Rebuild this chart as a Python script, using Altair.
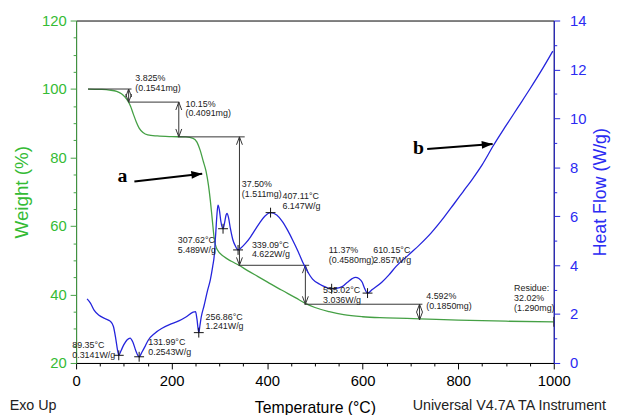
import altair as alt
import pandas as pd

# ---------------- data ----------------
# Weight (TGA) curve
w_temp = [25, 50, 70, 85, 95, 102, 108, 114, 120, 126, 132, 140, 150, 170, 200, 230, 245, 253,
          260, 266, 272, 277, 281, 285, 289, 295, 310, 325, 340, 360, 380, 400, 430, 460, 480,
          500, 530, 560, 600, 650, 720, 800, 900, 1000]
w_pct = [100.0, 99.9, 99.7, 99.3, 98.6, 97.7, 96.6, 95.0, 92.6, 90.4, 88.6, 87.3, 86.6, 86.3,
         86.1, 86.0, 85.6, 84.5, 82.0, 79.0, 76.0, 72.0, 67.5, 62.0, 56.5, 53.2, 51.0, 49.7,
         48.6, 46.9, 45.3, 43.7, 41.3, 39.0, 37.4, 36.2, 35.0, 34.1, 33.5, 33.2, 32.9, 32.5,
         32.2, 32.0]

# Heat flow (DSC) curve
h_temp = [23, 30, 38, 48, 60, 72, 78, 83, 87, 89.35, 94, 100, 107, 113, 119, 125, 131.99, 138,
          145, 151, 165, 180, 199, 215, 230, 245, 250, 253, 256.86, 259, 262, 268, 275, 281,
          286, 289, 292, 295, 297, 300, 303, 307.62, 311, 314, 316, 319, 323, 328, 333, 339.09,
          345, 355, 365, 375, 385, 395, 407.11, 420, 432, 443, 453, 465, 475, 485, 495, 510,
          523, 535.02, 545, 557, 568, 578, 585, 592, 599, 604, 610.15, 620, 640, 655, 670, 695,
          720, 743, 770, 791, 810, 829, 850, 874, 900, 925, 950, 974, 998]
h_val = [2.62, 2.45, 2.15, 1.95, 1.82, 1.7, 1.5, 1.0, 0.5, 0.3141, 0.5, 0.75, 0.95, 1.02, 0.85,
         0.5, 0.2543, 0.45, 0.7, 0.93, 1.22, 1.42, 1.6, 1.72, 1.88, 2.08, 2.1, 1.8, 1.241, 1.5,
         1.88, 2.35, 2.95, 3.4, 3.95, 4.35, 5.2, 6.1, 6.45, 6.25, 5.8, 5.489, 5.75, 6.05, 6.12,
         5.95, 5.5, 5.05, 4.8, 4.622, 4.7, 4.9, 5.15, 5.45, 5.75, 6.0, 6.147, 6.05, 5.78, 5.42,
         5.04, 4.55, 4.1, 3.72, 3.43, 3.22, 3.1, 3.036, 3.05, 3.12, 3.3, 3.45, 3.5, 3.45, 3.3,
         3.05, 2.857, 3.0, 3.3, 3.6, 3.95, 4.4, 4.85, 5.31, 5.95, 6.5, 7.0, 7.5, 8.1, 8.9, 9.7,
         10.45, 11.2, 11.95, 12.75]

# Peak annotations (heat flow)
peak_temp = [89.35, 131.99, 256.86, 307.62, 339.09, 407.11, 535.02, 610.15]
peak_hf = [0.3141, 0.2543, 1.241, 5.489, 4.622, 6.147, 3.036, 2.857]
peak_text = ["89.35°C\n0.3141W/g", "131.99°C\n0.2543W/g", "256.86°C\n1.241W/g",
             "307.62°C\n5.489W/g", "339.09°C\n4.622W/g", "407.11°C\n6.147W/g",
             "535.02°C\n3.036W/g", "610.15°C\n2.857W/g"]
peak_lab_t = [-8, 151, 271, 213, 368, 432, 517, 622]
peak_lab_h = [0.89, 1.01, 2.06, 5.2, 5.0, 6.98, 3.15, 4.76]

# Weight-loss steps
step_t = [110, 215, 342, 480, 719]
step_top = [100.0, 96.18, 86.03, 48.53, 37.16]
step_bot = [96.18, 86.03, 48.53, 37.16, 32.56]
step_from = [25, 110, 213, 340, 478]
step_to = [116, 216, 353, 488, 725]
step_text = ["3.825%\n(0.1541mg)", "10.15%\n(0.4091mg)", "37.50%\n(1.511mg)",
             "11.37%\n(0.4580mg)", "4.592%\n(0.1850mg)"]
step_lab_t = [124, 229, 347, 529, 733]
step_lab_w = [104.4, 96.9, 73.3, 54.0, 40.75]

residue_t = [1000]
residue_w = [32.02]
residue_text = ["Residue:\n32.02%\n(1.290mg)"]
residue_lab_t = [917]
residue_lab_w = [43.05]

# Letter call-outs a / b
ab_text = ["a", "b"]
ab_t = [97, 717]
ab_h = [7.38, 8.55]
arrow_t1 = [122, 735]
arrow_h1 = [7.42, 8.75]
arrow_t2 = [264, 872]
arrow_h2 = [7.74, 8.95]
arrow_ang = [353.4, 355.7]

foot_text = ["Exo Up", "Universal V4.7A TA Instrument"]
foot_t = [-90, 907]
foot_h = [-1.78, -1.78]

# ---------------- styling ----------------
FONT = "Liberation Sans"
GREEN_TXT = "#35bb35"
GREEN_LINE = "#45a045"
BLUE_TXT = "#2b2bf2"
BLUE_LINE = "#2424dc"
INK = "#222222"

XS = alt.Scale(domain=[0, 1000], nice=False, zero=False)
WS = alt.Scale(domain=[20, 120], nice=False, zero=False)
HS = alt.Scale(domain=[0, 14], nice=False, zero=False)

UP = "M-3,8L0,0L3,8"
DOWN = "M-3,-8L0,0L3,-8"
PLUS = "M-5,0L5,0M0,-5L0,5"
VBAR = "M0,-5L0,5"
HEAD = "M-11,-4L0,0L-11,4Z"


def tick_cond(step):
    return {"condition": {"test": f"datum.value % {step} === 0", "value": 6}, "value": 3}


x_axis = alt.Axis(values=list(range(0, 1001, 50)), format="d",
                  labelExpr="datum.value % 200 === 0 ? datum.label : ''",
                  tickSize=tick_cond(200), tickColor="black", domainColor="black",
                  labelColor="black", labelFont=FONT, labelFontSize=15, labelPadding=5,
                  labelFlush=False, labelOverlap=False,
                  title="Temperature (°C)", titleFont=FONT, titleFontSize=16,
                  titleFontWeight="normal", titleColor="black", titlePadding=11, grid=False)

w_axis = alt.Axis(orient="left", values=list(range(20, 121, 5)), format="d",
                  labelExpr="datum.value % 20 === 0 ? datum.label : ''",
                  tickSize=tick_cond(20), tickColor=GREEN_LINE, domainColor=GREEN_LINE,
                  labelColor=GREEN_TXT, labelFont=FONT, labelFontSize=15, labelPadding=4,
                  labelOverlap=False,
                  title="Weight (%)", titleColor=GREEN_TXT, titleFont=FONT, titleFontSize=19,
                  titleFontWeight="normal", titlePadding=10, grid=False)

h_axis = alt.Axis(orient="right", values=[i * 0.5 for i in range(29)], format="d",
                  labelExpr="datum.value % 2 === 0 ? datum.label : ''",
                  tickSize=tick_cond(2), tickColor=BLUE_LINE, domainColor=BLUE_LINE,
                  labelColor=BLUE_TXT, labelFont=FONT, labelFontSize=15, labelPadding=10,
                  labelOverlap=False,
                  title="Heat Flow (W/g)", titleColor=BLUE_TXT, titleFont=FONT,
                  titleFontSize=18, titleFontWeight="normal", titlePadding=6,
                  titleAngle=270, titleBaseline="top", grid=False)


def X(f):
    return alt.X(f"{f}:Q", scale=XS, axis=x_axis)


def YW(f):
    return alt.Y(f"{f}:Q", scale=WS, axis=w_axis)


def YH(f):
    return alt.Y(f"{f}:Q", scale=HS, axis=h_axis)


# ---------------- tables ----------------
weight_df = pd.DataFrame({"t": w_temp, "w": w_pct})
hf_df = pd.DataFrame({"t": h_temp, "h": h_val})
peak_df = pd.DataFrame({"t": peak_temp, "h": peak_hf})
peak_lab_df = pd.DataFrame({"t": peak_lab_t, "h": peak_lab_h, "txt": peak_text})
step_df = pd.DataFrame({"t": step_t, "top": step_top, "bot": step_bot,
                        "t1": step_from, "t2": step_to})
step_lab_df = pd.DataFrame({"t": step_lab_t + residue_lab_t, "w": step_lab_w + residue_lab_w,
                            "txt": step_text + residue_text})
res_df = pd.DataFrame({"t": residue_t, "w": residue_w})
ab_df = pd.DataFrame({"t": ab_t, "h": ab_h, "txt": ab_text})
arrow_df = pd.DataFrame({"t1": arrow_t1, "h1": arrow_h1, "t2": arrow_t2, "h2": arrow_h2,
                         "ang": arrow_ang})
foot_df = pd.DataFrame({"t": foot_t, "h": foot_h, "txt": foot_text})

# ---------------- weight group ----------------
w_line = alt.Chart(weight_df).mark_line(color=GREEN_LINE, strokeWidth=1.3,
                                         interpolate="monotone").encode(
    x=X("t"), y=YW("w"))

h_rules = alt.Chart(step_df).mark_rule(color="#333333", strokeWidth=1).encode(
    x=X("t1"), x2="t2:Q", y=YW("top"))
v_rules = alt.Chart(step_df).mark_rule(color="#333333", strokeWidth=1).encode(
    x=X("t"), y=YW("top"), y2="bot:Q")
ups = alt.Chart(step_df).mark_point(shape=UP, size=4, filled=False, color="#333333",
                                    strokeWidth=1, opacity=1).encode(x=X("t"), y=YW("top"))
downs = alt.Chart(step_df).mark_point(shape=DOWN, size=4, filled=False, color="#333333",
                                      strokeWidth=1, opacity=1).encode(x=X("t"), y=YW("bot"))
step_labels = alt.Chart(step_lab_df).mark_text(
    align="left", baseline="top", font=FONT, fontSize=9, lineHeight=10, lineBreak="\n",
    color=INK).encode(x=X("t"), y=YW("w"), text="txt:N")
res_mark = alt.Chart(res_df).mark_point(shape=VBAR, size=4, filled=False, color="#333333",
                                        strokeWidth=1, opacity=1).encode(x=X("t"), y=YW("w"))

w_group = alt.layer(w_line, h_rules, v_rules, ups, downs, step_labels, res_mark)

# ---------------- heat flow group ----------------
h_line = alt.Chart(hf_df).mark_line(color=BLUE_LINE, strokeWidth=1.3,
                                     interpolate="monotone").encode(
    x=X("t"), y=YH("h"))
peaks = alt.Chart(peak_df).mark_point(shape=PLUS, size=4, filled=False, color="#111111",
                                      strokeWidth=1, opacity=1).encode(x=X("t"), y=YH("h"))
peak_labels = alt.Chart(peak_lab_df).mark_text(
    align="left", baseline="top", font=FONT, fontSize=9, lineHeight=10, lineBreak="\n",
    color=INK).encode(x=X("t"), y=YH("h"), text="txt:N")
arrows = alt.Chart(arrow_df).mark_rule(color="black", strokeWidth=2).encode(
    x=X("t1"), y=YH("h1"), x2="t2:Q", y2="h2:Q")
heads = alt.Chart(arrow_df).mark_point(shape=HEAD, size=4, filled=True, color="black",
                                       opacity=1).encode(
    x=X("t2"), y=YH("h2"), angle=alt.Angle("ang:Q", scale=None))
ab_labels = alt.Chart(ab_df).mark_text(
    font="Liberation Serif", fontWeight="bold", fontSize=20, align="center",
    baseline="alphabetic", color="black").encode(x=X("t"), y=YH("h"), text="txt:N")
foot = alt.Chart(foot_df).mark_text(font=FONT, fontSize=14.5, align="center",
                                    baseline="middle", color=INK).encode(
    x=X("t"), y=YH("h"), text="txt:N")

h_group = alt.layer(h_line, peaks, peak_labels, arrows, heads, ab_labels, foot)

chart = alt.layer(w_group, h_group).resolve_scale(y="independent").properties(
    width=484, height=347,
    autosize=alt.AutoSizeParams(type="none"),
    padding={"left": 69, "top": 10, "right": 58, "bottom": 50},
).configure_view(stroke="black", strokeWidth=1)

chart.save("out.html", embed_options={"renderer": "svg", "actions": False})
